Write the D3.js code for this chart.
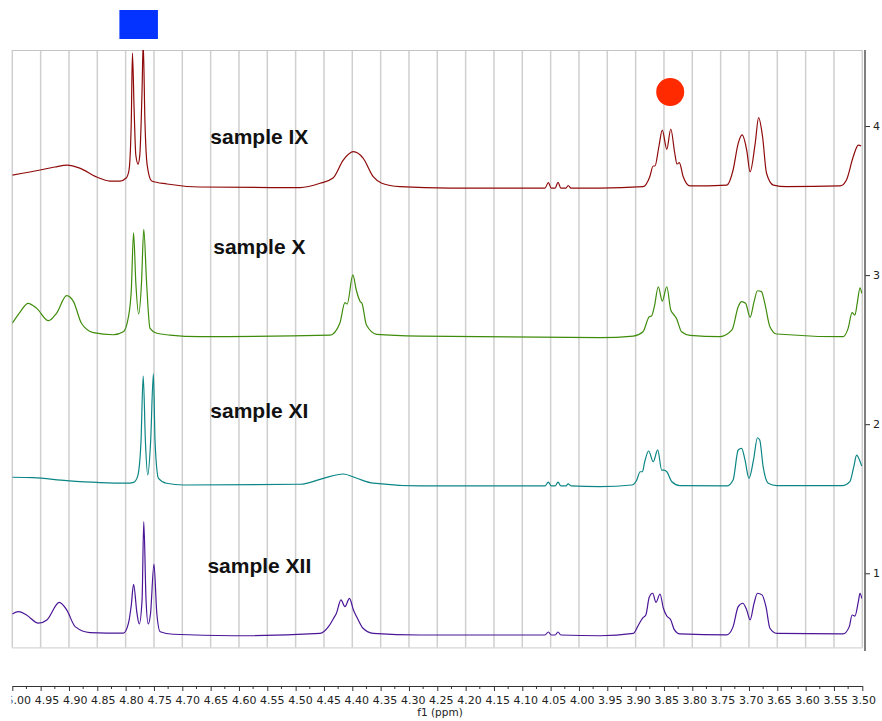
<!DOCTYPE html>
<html>
<head>
<meta charset="utf-8">
<script src="https://cdn.jsdelivr.net/npm/d3@7"></script>
<style>
  html, body { margin: 0; padding: 0; background: #ffffff; }
  svg { display: block; }
</style>
</head>
<body>
<svg id="chart" width="882" height="721"></svg>
<script>
// ---------------- DATA ----------------
const sampleNames = ["sample IX", "sample X", "sample XI", "sample XII"];

const xTickValues = [5.00, 4.95, 4.90, 4.85, 4.80, 4.75, 4.70, 4.65, 4.60, 4.55, 4.50, 4.45, 4.40, 4.35, 4.30, 4.25,
  4.20, 4.15, 4.10, 4.05, 4.00, 3.95, 3.90, 3.85, 3.80, 3.75, 3.70, 3.65, 3.60, 3.55, 3.50];
const yTickValues = [1, 2, 3, 4];

// sample IX (chemical shift ppm / intensity)
const ppmIX = [5.000, 4.951, 4.925, 4.903, 4.881, 4.851, 4.828, 4.810, 4.799, 4.794, 4.790, 4.788, 4.785, 4.782, 4.778,
  4.775, 4.771, 4.769, 4.766, 4.762, 4.754, 4.727, 4.669, 4.492, 4.457, 4.434, 4.416, 4.398, 4.381, 4.363, 4.348, 4.316,
  4.228, 4.069, 4.060, 4.054, 4.049, 4.042, 4.037, 4.032, 4.023, 4.019, 4.014, 3.963, 3.887, 3.875, 3.869, 3.866, 3.859,
  3.853, 3.845, 3.838, 3.831, 3.827, 3.823, 3.816, 3.804, 3.739, 3.728, 3.719, 3.712, 3.704, 3.698, 3.689, 3.683, 3.676,
  3.669, 3.657, 3.634, 3.539, 3.528, 3.516, 3.507, 3.502];
const intIX = [3.671, 3.705, 3.725, 3.738, 3.718, 3.658, 3.631, 3.631, 3.651, 3.705, 4.040, 4.490, 4.107, 3.805, 3.745,
  3.805, 4.241, 4.560, 4.040, 3.738, 3.631, 3.611, 3.591, 3.587, 3.616, 3.651, 3.772, 3.828, 3.785, 3.660, 3.616, 3.593,
  3.584, 3.584, 3.584, 3.620, 3.584, 3.584, 3.622, 3.584, 3.584, 3.601, 3.584, 3.584, 3.593, 3.660, 3.732, 3.732, 3.861,
  3.973, 3.844, 3.980, 3.819, 3.745, 3.754, 3.660, 3.598, 3.604, 3.705, 3.884, 3.940, 3.839, 3.693, 3.884, 4.056, 3.928,
  3.683, 3.604, 3.593, 3.598, 3.638, 3.794, 3.872, 3.866];

// sample X
const ppmX = [5.000, 4.986, 4.972, 4.957, 4.936, 4.922, 4.904, 4.892, 4.878, 4.857, 4.822, 4.804, 4.795, 4.790, 4.786,
  4.782, 4.777, 4.772, 4.768, 4.763, 4.757, 4.745, 4.722, 4.669, 4.439, 4.422, 4.413, 4.409, 4.399, 4.393, 4.386, 4.383,
  4.375, 4.357, 4.281, 3.963, 3.904, 3.887, 3.876, 3.872, 3.867, 3.860, 3.853, 3.845, 3.838, 3.832, 3.828, 3.819, 3.804,
  3.751, 3.730, 3.719, 3.713, 3.706, 3.698, 3.691, 3.685, 3.678, 3.672, 3.663, 3.651, 3.534, 3.525, 3.518, 3.513, 3.509,
  3.504, 3.501];
const intX = [2.677, 2.754, 2.811, 2.777, 2.694, 2.744, 2.862, 2.822, 2.677, 2.614, 2.600, 2.620, 2.721, 2.900, 3.284,
  2.947, 2.739, 2.947, 3.307, 2.947, 2.643, 2.610, 2.598, 2.587, 2.598, 2.677, 2.815, 2.806, 3.001, 2.900, 2.822, 2.811,
  2.665, 2.603, 2.591, 2.580, 2.591, 2.620, 2.721, 2.726, 2.788, 2.922, 2.826, 2.922, 2.766, 2.732, 2.710, 2.620, 2.596,
  2.587, 2.632, 2.788, 2.822, 2.811, 2.717, 2.822, 2.895, 2.889, 2.811, 2.654, 2.605, 2.587, 2.643, 2.748, 2.732, 2.811,
  2.915, 2.878];

// sample XI
const ppmXI = [5.000, 4.963, 4.904, 4.845, 4.798, 4.786, 4.779, 4.773, 4.769, 4.765, 4.761, 4.756, 4.751, 4.748, 4.742,
  4.728, 4.698, 4.492, 4.451, 4.416, 4.392, 4.363, 4.281, 4.060, 4.054, 4.049, 4.042, 4.037, 4.032, 4.023, 4.019, 4.014,
  3.963, 3.907, 3.898, 3.892, 3.888, 3.884, 3.877, 3.869, 3.861, 3.854, 3.850, 3.845, 3.836, 3.822, 3.739, 3.728, 3.719,
  3.713, 3.707, 3.700, 3.692, 3.685, 3.681, 3.675, 3.666, 3.651, 3.534, 3.522, 3.515, 3.510, 3.505, 3.501];
const intXI = [1.644, 1.641, 1.621, 1.608, 1.604, 1.610, 1.648, 1.874, 2.323, 1.874, 1.659, 1.874, 2.337, 1.874, 1.637,
  1.604, 1.592, 1.597, 1.637, 1.666, 1.637, 1.604, 1.586, 1.586, 1.612, 1.586, 1.586, 1.612, 1.586, 1.586, 1.599, 1.586,
  1.581, 1.592, 1.626, 1.681, 1.681, 1.748, 1.820, 1.748, 1.827, 1.692, 1.692, 1.681, 1.614, 1.588, 1.586, 1.626, 1.827,
  1.838, 1.760, 1.637, 1.760, 1.909, 1.894, 1.715, 1.604, 1.588, 1.588, 1.614, 1.715, 1.793, 1.760, 1.720];

// sample XII
const ppmXII = [5.000, 4.989, 4.975, 4.954, 4.939, 4.917, 4.904, 4.889, 4.863, 4.804, 4.795, 4.790, 4.786, 4.780, 4.776,
  4.771, 4.768, 4.764, 4.760, 4.756, 4.750, 4.745, 4.739, 4.716, 4.610, 4.457, 4.442, 4.433, 4.428, 4.420, 4.413, 4.405,
  4.398, 4.391, 4.381, 4.363, 4.281, 4.060, 4.054, 4.049, 4.042, 4.037, 4.032, 3.963, 3.904, 3.895, 3.888, 3.882, 3.876,
  3.870, 3.864, 3.857, 3.851, 3.845, 3.838, 3.832, 3.822, 3.739, 3.728, 3.719, 3.711, 3.704, 3.698, 3.691, 3.685, 3.677,
  3.670, 3.663, 3.651, 3.534, 3.523, 3.518, 3.513, 3.507, 3.504, 3.501];
const intXII = [0.727, 0.742, 0.720, 0.665, 0.687, 0.805, 0.754, 0.642, 0.602, 0.598, 0.665, 0.787, 0.926, 0.732, 0.660,
  0.821, 1.346, 0.821, 0.660, 0.732, 1.062, 0.732, 0.608, 0.591, 0.581, 0.597, 0.642, 0.698, 0.732, 0.821, 0.776, 0.832,
  0.754, 0.698, 0.631, 0.597, 0.586, 0.586, 0.606, 0.586, 0.586, 0.606, 0.586, 0.581, 0.597, 0.653, 0.698, 0.720, 0.839,
  0.866, 0.805, 0.861, 0.765, 0.713, 0.687, 0.624, 0.593, 0.587, 0.642, 0.776, 0.799, 0.754, 0.687, 0.799, 0.866, 0.855,
  0.776, 0.631, 0.597, 0.593, 0.642, 0.720, 0.713, 0.809, 0.866, 0.832];

const seriesPpm = [ppmIX, ppmX, ppmXI, ppmXII];
const seriesInt = [intIX, intX, intXI, intXII];

// ---------------- LAYOUT / STYLE ----------------
const colors = ["#8e0a0a", "#3f8c0c", "#0b8585", "#4a1597"];
const labelPpm = 4.564;
const labelBaseline = [3.879, 3.141, 2.042, 1.002];

const svg = d3.select("#chart");
const plot = { left: 12.3, right: 862.3, top: 50, bottom: 647.8 };

const x = d3.scaleLinear().domain([5.0, 3.5]).range([plot.left, plot.right]);
const y = d3.scaleLinear().domain([0.5, 4.51]).range([plot.bottom, plot.top]);

const defs = svg.append("defs");
defs.append("clipPath").attr("id", "clip")
  .append("rect").attr("x", plot.left).attr("y", plot.top)
  .attr("width", plot.right - plot.left).attr("height", plot.bottom - plot.top);
defs.append("clipPath").attr("id", "axisclip")
  .append("rect").attr("x", 11.5).attr("y", -10)
  .attr("width", 882).attr("height", 60);

// grid lines
const gridG = svg.append("g");
gridG.selectAll("line.v").data(xTickValues).join("line")
  .attr("x1", d => x(d)).attr("x2", d => x(d))
  .attr("y1", plot.top).attr("y2", plot.bottom)
  .attr("stroke", "#cfcfcf").attr("stroke-width", 1.5);
gridG.append("line").attr("x1", plot.left).attr("x2", plot.right)
  .attr("y1", plot.top + 0.5).attr("y2", plot.top + 0.5)
  .attr("stroke", "#c4c4c4").attr("stroke-width", 1.2);
gridG.append("line").attr("x1", plot.left).attr("x2", plot.right)
  .attr("y1", plot.bottom).attr("y2", plot.bottom)
  .attr("stroke", "#d6d6d6").attr("stroke-width", 1.2);

const line = d3.line()
  .x(d => x(d[0])).y(d => y(d[1]))
  .curve(d3.curveMonotoneX);

const specG = svg.append("g").attr("clip-path", "url(#clip)");
seriesPpm.forEach((ppm, i) => {
  const pts = ppm.map((p, j) => [p, seriesInt[i][j]]).sort((a, b) => a[0] - b[0]);
  specG.append("path").datum(pts)
    .attr("d", line)
    .attr("fill", "none")
    .attr("stroke", colors[i])
    .attr("stroke-width", 1.2)
    .attr("stroke-linejoin", "round");
});

// sample labels
svg.append("g").selectAll("text").data(sampleNames).join("text")
  .attr("x", x(labelPpm))
  .attr("y", (d, i) => y(labelBaseline[i]))
  .attr("text-anchor", "middle")
  .attr("font-family", "'Liberation Sans', Arial, sans-serif")
  .attr("font-weight", "bold")
  .attr("font-size", 21)
  .attr("fill", "#111")
  .text(d => d);

// markers
svg.append("rect")
  .attr("x", x(4.811)).attr("y", 10)
  .attr("width", x(4.743) - x(4.811)).attr("height", 29)
  .attr("fill", "#0433ff");
svg.append("circle")
  .attr("cx", x(3.839)).attr("cy", 92).attr("r", 14)
  .attr("fill", "#ff2a00");

// bottom axis
const axisY = 686;
const minorTicks = d3.range(0, 30).map(i => 4.975 - i * 0.05);
const xAxis = d3.axisBottom(x)
  .tickValues(xTickValues)
  .tickSize(5)
  .tickSizeOuter(0)
  .tickFormat(d3.format(".2f"));
const gx = svg.append("g").attr("transform", `translate(0,${axisY})`).call(xAxis);
gx.attr("clip-path", "url(#axisclip)");
gx.select(".domain").attr("stroke", "#333").attr("stroke-width", 1);
gx.selectAll(".tick line").attr("stroke", "#333");
gx.selectAll(".tick text")
  .attr("font-family", "'DejaVu Sans', Verdana, sans-serif")
  .attr("font-size", 11).attr("fill", "#222")
  .attr("y", 8).attr("dy", "0.95em")
  .attr("dx", (d, i) => 6 - 5 * i / 30);
gx.selectAll("line.minor").data(minorTicks).join("line")
  .attr("class", "minor")
  .attr("x1", d => x(d)).attr("x2", d => x(d))
  .attr("y1", 0).attr("y2", 3)
  .attr("stroke", "#333");
svg.append("text")
  .attr("x", 440).attr("y", 716)
  .attr("text-anchor", "middle")
  .attr("font-family", "'DejaVu Sans', Verdana, sans-serif")
  .attr("font-size", 10.5).attr("fill", "#222")
  .text("f1 (ppm)");

// right axis
const axisX = 865;
const yAxis = d3.axisRight(y).tickValues(yTickValues).tickSize(5).tickSizeOuter(0).tickFormat(d3.format("d"));
const gy = svg.append("g").attr("transform", `translate(${axisX},0)`).call(yAxis);
gy.select(".domain").remove();
gy.append("line").attr("x1", 0).attr("x2", 0).attr("y1", 50).attr("y2", 651)
  .attr("stroke", "#555").attr("stroke-width", 1.5);
gy.selectAll(".tick line").attr("stroke", "#333");
gy.selectAll(".tick text")
  .attr("font-family", "'DejaVu Sans', Verdana, sans-serif")
  .attr("font-size", 11).attr("fill", "#222").attr("x", 8);
</script>
</body>
</html>
